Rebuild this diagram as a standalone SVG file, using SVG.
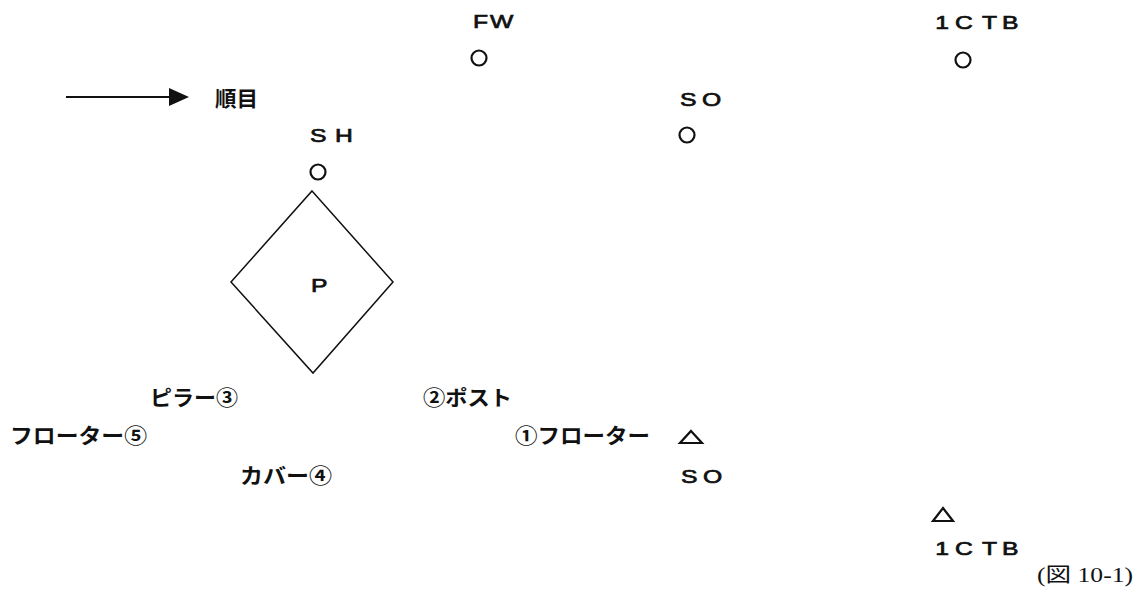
<svg xmlns="http://www.w3.org/2000/svg" width="1137" height="594" viewBox="0 0 1137 594">
<style>
.lat{font-family:"Liberation Sans",Arial,sans-serif;font-size:19px;fill:#111;stroke:#111;stroke-width:0.7}
.jp{font-family:"Noto Sans CJK JP","Noto Sans",sans-serif;font-size:21px;font-weight:bold;fill:#111}
.ser{font-family:"Liberation Serif","Noto Sans CJK JP",serif;font-size:20px;fill:#111}
.mk{fill:none;stroke:#111;stroke-width:2.2}
.ln{fill:none;stroke:#111;stroke-width:1.5}
</style>
<rect width="1137" height="594" fill="#fff"/>
<g id="connectors">
<line x1="66" y1="97" x2="170" y2="97" stroke="#111" stroke-width="2"/>
<path d="M169,88 L189,97 L169,106 Z" fill="#111"/>
</g>
<g id="legend"><text class="jp" x="215" y="106" textLength="43" lengthAdjust="spacingAndGlyphs">順目</text></g>
<g id="fw"><text class="lat" transform="scale(1.3,1)" x="363.8 376.9" y="28">FW</text><circle class="mk" cx="479" cy="58" r="7.5"/></g>
<g id="ctb-top"><text class="lat" transform="scale(1.3,1)" x="719.5 734.6 755.4 770.8" y="29">1CTB</text><circle class="mk" cx="963" cy="60" r="7.5"/></g>
<g id="so-top"><text class="lat" transform="scale(1.3,1)" x="523.1 540" y="106">SO</text><circle class="mk" cx="687" cy="135" r="7.5"/></g>
<g id="sh"><text class="lat" transform="scale(1.3,1)" x="238.5 257.7" y="142">SH</text><circle class="mk" cx="318" cy="172" r="7.5"/></g>
<g id="p"><polygon class="ln" points="312,191 393,282 313,373 231,282"/><text class="lat" transform="scale(1.3,1)" x="239.2" y="292">P</text></g>
<g id="pillar"><text class="jp" x="150" y="405" textLength="88" lengthAdjust="spacingAndGlyphs">ピラー③</text></g>
<g id="floater5"><text class="jp" x="10" y="443" textLength="137" lengthAdjust="spacingAndGlyphs">フローター⑤</text></g>
<g id="cover"><text class="jp" x="240" y="483" textLength="92" lengthAdjust="spacingAndGlyphs">カバー④</text></g>
<g id="post"><text class="jp" x="423" y="405" textLength="89" lengthAdjust="spacingAndGlyphs">②ポスト</text></g>
<g id="floater1"><text class="jp" x="515" y="443" textLength="135" lengthAdjust="spacingAndGlyphs">①フローター</text></g>
<g id="so-bottom"><polygon class="mk" points="691,431 702,443 680,443"/><text class="lat" transform="scale(1.3,1)" x="523.8 540.8" y="483">SO</text></g>
<g id="ctb-bottom"><polygon class="mk" points="943,508 953,521 933,521"/><text class="lat" transform="scale(1.3,1)" x="719.5 734.6 755.4 770.8" y="555">1CTB</text></g>
<g id="caption"><text class="ser" x="1037" y="582" textLength="96" lengthAdjust="spacingAndGlyphs">(図 10-1)</text></g>
</svg>
